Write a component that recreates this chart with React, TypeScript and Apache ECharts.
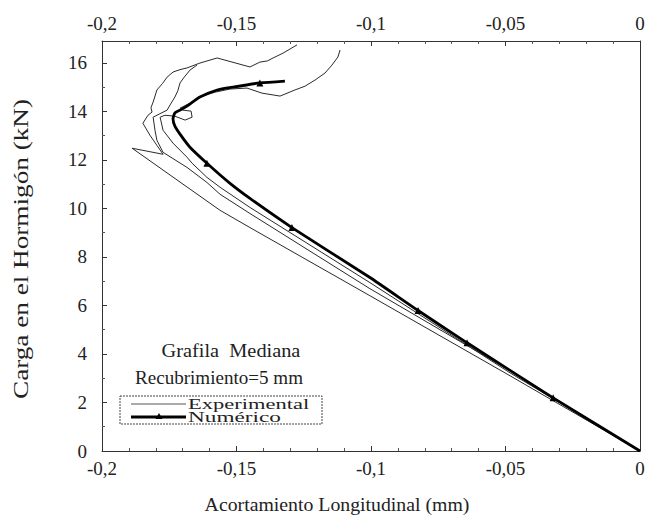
import React, { useEffect, useRef } from "react";
import * as echarts from "echarts";

// Experimental specimen 1 (closest to numerical curve)
const exp1X = [0, -0.0483, -0.1004, -0.145, -0.1561, -0.161, -0.1665, -0.1684, -0.1736, -0.1773, -0.1784, -0.1766, -0.1729, -0.1691, -0.1665, -0.1669, -0.1699, -0.171, -0.1673, -0.1636, -0.158, -0.1524, -0.1461, -0.1405, -0.1338, -0.1283, -0.1245, -0.1208, -0.1171, -0.1145, -0.1123, -0.1115];
const exp1Y = [0, 3.22, 6.94, 10.04, 10.87, 11.28, 11.86, 12.11, 12.69, 13.22, 13.76, 13.84, 13.8, 13.64, 13.76, 14.01, 14.05, 14.13, 14.34, 14.59, 14.79, 14.92, 14.96, 14.75, 14.63, 14.88, 15.04, 15.29, 15.58, 15.91, 16.24, 16.53];

// Experimental specimen 2
const exp2X = [0, -0.0483, -0.1004, -0.145, -0.1561, -0.161, -0.1684, -0.1773, -0.1796, -0.1803, -0.181, -0.1785, -0.1758, -0.1745, -0.1729, -0.1718, -0.171, -0.1695, -0.1673, -0.1647];
const exp2Y = [0, 3.31, 6.69, 9.79, 10.58, 11.07, 11.69, 12.31, 12.81, 13.22, 13.76, 13.9, 14.05, 14.3, 14.59, 14.85, 15.17, 15.4, 15.7, 15.91];

// Experimental specimen 3 (leftmost)
const exp3X = [0, -0.0483, -0.1004, -0.145, -0.1561, -0.1888, -0.1773, -0.1796, -0.1822, -0.1848, -0.1829, -0.1814, -0.1818, -0.181, -0.1796, -0.1775, -0.1758, -0.1736, -0.171, -0.1684, -0.1636, -0.1572, -0.145, -0.1413, -0.1385, -0.1364, -0.1327, -0.1275];
const exp3Y = [0, 3.1, 6.4, 9.21, 9.92, 12.48, 12.23, 12.6, 13.02, 13.51, 13.84, 13.97, 14.15, 14.38, 14.88, 15.15, 15.41, 15.62, 15.72, 15.79, 15.99, 16.2, 15.83, 16.03, 16.08, 16.2, 16.4, 16.74];

// Numerical curve
const numX = [0, -0.0323, -0.0643, -0.0825, -0.1004, -0.1294, -0.145, -0.1524, -0.161, -0.1673, -0.171, -0.1729, -0.1736, -0.1729, -0.1703, -0.1673, -0.1636, -0.1572, -0.1513, -0.1413, -0.132];
const numY = [0, 2.19, 4.46, 5.79, 7.15, 9.21, 10.41, 11.03, 11.86, 12.52, 13.06, 13.39, 13.68, 13.93, 14.09, 14.3, 14.59, 14.88, 15.0, 15.17, 15.25];
const numMarkedIdx = [1, 2, 3, 5, 8, 19];

const xTickValues = [-0.2, -0.15, -0.1, -0.05, 0];
const xTickLabels = ["-0,2", "-0,15", "-0,1", "-0,05", "0"];

const legendNames = ["Experimental", "Numérico"];
const annotation1 = "Grafila  Mediana";
const annotation2 = "Recubrimiento=5 mm";
const xTitle = "Acortamiento Longitudinal (mm)";
const yTitle = "Carga en el Hormigón (kN)";

const FONT = "Liberation Serif";

function xLabel(v: number): string {
  let best = 0;
  for (let i = 0; i < xTickValues.length; i++) {
    if (Math.abs(xTickValues[i] - v) < Math.abs(xTickValues[best] - v)) best = i;
  }
  return xTickLabels[best];
}

export default function App() {
  const ref = useRef<HTMLDivElement>(null);
  useEffect(() => {
    document.body.style.margin = "0";
    const chart = echarts.init(ref.current!, null, { renderer: "svg" });
    const zip = (xs: number[], ys: number[]) => xs.map((x, i) => [x, ys[i]]);
    const expStyle = { color: "#2a2a2a", width: 1 };
    const xAxisBase = {
      type: "value",
      min: -0.2,
      max: 0,
      interval: 0.05,
      splitLine: { show: false },
      axisLine: { show: true, onZero: false, lineStyle: { color: "#333", width: 1 } },
      axisTick: { show: true, inside: true, length: 5, lineStyle: { color: "#333" } },
      minorTick: { show: true, splitNumber: 5, length: 3, lineStyle: { color: "#555" } },
      axisLabel: {
        fontFamily: FONT,
        fontSize: 19,
        color: "#222",
        margin: 8,
        formatter: (v: number) => xLabel(v),
      },
    };
    const txt = (text: string, x: number, y: number, size: number, sx: number, align: string, rot = 0) => ({
      type: "text",
      x,
      y,
      rotation: rot,
      scaleX: sx,
      style: {
        text,
        font: `${size}px "${FONT}"`,
        fill: "#222",
        textAlign: align,
        textVerticalAlign: "middle",
      },
    });
    chart.setOption({
      animation: false,
      backgroundColor: "#fff",
      grid: { left: 102, right: 9, top: 41, bottom: 73 },
      xAxis: [
        { ...xAxisBase, position: "bottom" },
        { ...xAxisBase, position: "top" },
      ],
      yAxis: [
        {
          type: "value",
          min: 0,
          max: 16.9,
          interval: 2,
          position: "left",
          splitLine: { show: false },
          axisLine: { show: true, onZero: false, lineStyle: { color: "#333", width: 1 } },
          axisTick: { show: true, inside: true, length: 5, lineStyle: { color: "#333" } },
          minorTick: { show: true, splitNumber: 2, length: 3, lineStyle: { color: "#555" } },
          axisLabel: { fontFamily: FONT, fontSize: 19, color: "#222", margin: 15, showMaxLabel: false },
        },
        {
          type: "value",
          min: 0,
          max: 16.9,
          interval: 2,
          position: "right",
          splitLine: { show: false },
          axisLine: { show: true, onZero: false, lineStyle: { color: "#333", width: 1 } },
          axisTick: { show: false },
          axisLabel: { show: false },
        },
      ],
      graphic: [
        {
          type: "rect",
          shape: { x: 120, y: 396, width: 202, height: 28 },
          style: { fill: "none", stroke: "#444", lineWidth: 1, lineDash: [2, 1] },
        },
        {
          type: "line",
          shape: { x1: 131, y1: 404, x2: 186, y2: 404 },
          style: { stroke: "#555", lineWidth: 1 },
        },
        {
          type: "line",
          shape: { x1: 131, y1: 417, x2: 186, y2: 417 },
          style: { stroke: "#000", lineWidth: 2.8 },
        },
        {
          type: "polygon",
          shape: { points: [[159, 413], [155.5, 419], [162.5, 419]] },
          style: { fill: "#000" },
        },
        txt(legendNames[0], 188, 404, 15, 1.5, "left"),
        txt(legendNames[1], 188, 417, 15, 1.55, "left"),
        txt(annotation1, 231, 351, 18, 1.13, "center"),
        txt(annotation2, 219, 378, 18, 1.06, "center"),
        txt(xTitle, 337, 505, 18, 1.1, "center"),
        txt(yTitle, 21, 249, 20, 1.36, "center", Math.PI / 2),
      ],
      series: [
        {
          name: legendNames[0],
          type: "line",
          symbol: "none",
          lineStyle: expStyle,
          data: zip(exp1X, exp1Y),
          z: 2,
        },
        {
          name: legendNames[0],
          type: "line",
          symbol: "none",
          lineStyle: expStyle,
          data: zip(exp2X, exp2Y),
          z: 2,
        },
        {
          name: legendNames[0],
          type: "line",
          symbol: "none",
          lineStyle: expStyle,
          data: zip(exp3X, exp3Y),
          z: 2,
        },
        {
          name: legendNames[1],
          type: "line",
          symbol: "triangle",
          symbolSize: 7,
          showSymbol: true,
          showAllSymbol: true,
          smooth: 0.2,
          lineStyle: { color: "#000", width: 2.8 },
          itemStyle: { color: "#000" },
          data: numX.map((x, i) => ({
            value: [x, numY[i]],
            symbol: numMarkedIdx.includes(i) ? "triangle" : "none",
          })),
          z: 3,
        },
      ],
    });
    return () => chart.dispose();
  }, []);
  return <div ref={ref} style={{ position: "absolute", left: 0, top: 0, width: 649, height: 524 }} />;
}
